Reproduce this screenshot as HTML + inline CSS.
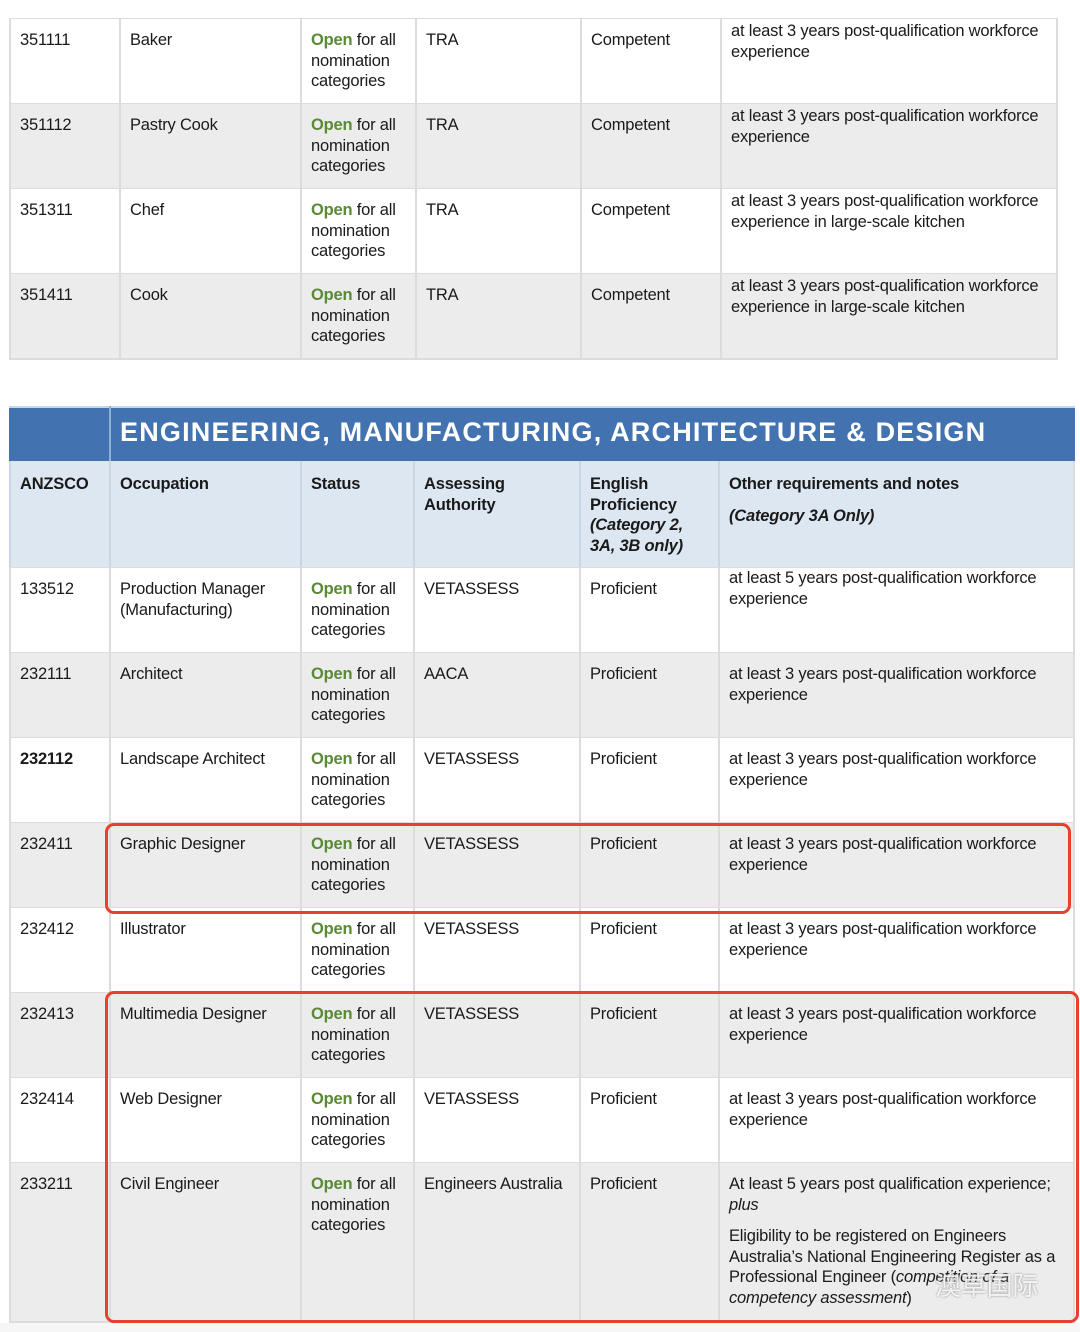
<!DOCTYPE html>
<html><head><meta charset="utf-8"><style>
*{margin:0;padding:0;box-sizing:border-box}
body{width:1080px;height:1332px;background:#fff;position:relative;overflow:hidden;font-family:"Liberation Sans",sans-serif;font-size:16.5px;color:#1a1a1a;letter-spacing:-0.2px}
.r{position:absolute;display:flex;border-bottom:2px solid #dcdcdc}
.r>div{border-left:2px solid #dcdcdc;padding:11px 9px 0 9px;line-height:20.5px;height:100%}
.r>div:last-child{border-right:2px solid #dcdcdc}
.g{background:#ececec}.w{background:#fff}
.o{color:#5a8a35;font-weight:bold}
.t .n{padding-top:2px}
.h{background:#dde7f2}
.h>div{font-weight:bold;border-left-color:#c9d6e6}
i{font-style:italic}
.box{position:absolute;border:3px solid #e8402c;border-radius:9px}
</style></head><body>
<div style="position:absolute;left:9px;top:18px;width:1049px;border-top:2px solid #dcdcdc"></div>
<div class="r w t" style="left:9px;top:19px;height:86px"><div style="width:110px">351111</div><div style="width:181px">Baker</div><div style="width:115px"><span class="o">Open</span> for all nomination categories</div><div style="width:165px">TRA</div><div style="width:140px">Competent</div><div class="n" style="width:338px">at least 3 years post-qualification workforce experience</div></div>
<div class="r g t" style="left:9px;top:104px;height:86px"><div style="width:110px">351112</div><div style="width:181px">Pastry Cook</div><div style="width:115px"><span class="o">Open</span> for all nomination categories</div><div style="width:165px">TRA</div><div style="width:140px">Competent</div><div class="n" style="width:338px">at least 3 years post-qualification workforce experience</div></div>
<div class="r w t" style="left:9px;top:189px;height:86px"><div style="width:110px">351311</div><div style="width:181px">Chef</div><div style="width:115px"><span class="o">Open</span> for all nomination categories</div><div style="width:165px">TRA</div><div style="width:140px">Competent</div><div class="n" style="width:338px">at least 3 years post-qualification workforce experience in large-scale kitchen</div></div>
<div class="r g t" style="left:9px;top:274px;height:86px"><div style="width:110px">351411</div><div style="width:181px">Cook</div><div style="width:115px"><span class="o">Open</span> for all nomination categories</div><div style="width:165px">TRA</div><div style="width:140px">Competent</div><div class="n" style="width:338px">at least 3 years post-qualification workforce experience in large-scale kitchen</div></div>

<div style="position:absolute;left:9px;top:406px;width:1066px;height:56px;background:#4272b0;border-top:2px solid #c9d6e6"></div>
<div style="position:absolute;left:109px;top:406px;width:2px;height:56px;background:#8fb0d6"></div>
<div style="position:absolute;left:120px;top:414px;color:#fff;font-weight:bold;font-size:27px;letter-spacing:1.2px;line-height:36px">ENGINEERING, MANUFACTURING, ARCHITECTURE &amp; DESIGN</div>
<div class="r h" style="left:9px;top:461px;height:108px;border-bottom-color:#dcdcdc"><div style="width:100px;padding-top:13px">ANZSCO</div><div style="width:191px;padding-top:13px">Occupation</div><div style="width:113px;padding-top:13px">Status</div><div style="width:166px;padding-top:13px">Assessing Authority</div><div style="width:139px;padding-top:13px">English Proficiency <i>(Category 2, 3A, 3B only)</i></div><div style="width:357px;padding-top:13px">Other requirements and notes<br><i style="display:block;margin-top:11px">(Category 3A Only)</i></div></div>
<div class="r w" style="left:9px;top:568px;height:86px"><div style="width:100px">133512</div><div style="width:191px">Production Manager (Manufacturing)</div><div style="width:113px"><span class="o">Open</span> for all nomination categories</div><div style="width:166px">VETASSESS</div><div style="width:139px">Proficient</div><div style="width:357px;padding-top:0px">at least 5 years post-qualification workforce experience</div></div>
<div class="r g" style="left:9px;top:653px;height:86px"><div style="width:100px">232111</div><div style="width:191px">Architect</div><div style="width:113px"><span class="o">Open</span> for all nomination categories</div><div style="width:166px">AACA</div><div style="width:139px">Proficient</div><div style="width:357px">at least 3 years post-qualification workforce experience</div></div>
<div class="r w" style="left:9px;top:738px;height:86px"><div style="width:100px;font-weight:bold">232112</div><div style="width:191px">Landscape Architect</div><div style="width:113px"><span class="o">Open</span> for all nomination categories</div><div style="width:166px">VETASSESS</div><div style="width:139px">Proficient</div><div style="width:357px">at least 3 years post-qualification workforce experience</div></div>
<div class="r g" style="left:9px;top:823px;height:86px"><div style="width:100px">232411</div><div style="width:191px">Graphic Designer</div><div style="width:113px"><span class="o">Open</span> for all nomination categories</div><div style="width:166px">VETASSESS</div><div style="width:139px">Proficient</div><div style="width:357px">at least 3 years post-qualification workforce experience</div></div>
<div class="r w" style="left:9px;top:908px;height:86px"><div style="width:100px">232412</div><div style="width:191px">Illustrator</div><div style="width:113px"><span class="o">Open</span> for all nomination categories</div><div style="width:166px">VETASSESS</div><div style="width:139px">Proficient</div><div style="width:357px">at least 3 years post-qualification workforce experience</div></div>
<div class="r g" style="left:9px;top:993px;height:86px"><div style="width:100px">232413</div><div style="width:191px">Multimedia Designer</div><div style="width:113px"><span class="o">Open</span> for all nomination categories</div><div style="width:166px">VETASSESS</div><div style="width:139px">Proficient</div><div style="width:357px">at least 3 years post-qualification workforce experience</div></div>
<div class="r w" style="left:9px;top:1078px;height:86px"><div style="width:100px">232414</div><div style="width:191px">Web Designer</div><div style="width:113px"><span class="o">Open</span> for all nomination categories</div><div style="width:166px">VETASSESS</div><div style="width:139px">Proficient</div><div style="width:357px">at least 3 years post-qualification workforce experience</div></div>
<div class="r g" style="left:9px;top:1163px;height:160px"><div style="width:100px">233211</div><div style="width:191px">Civil Engineer</div><div style="width:113px"><span class="o">Open</span> for all nomination categories</div><div style="width:166px">Engineers Australia</div><div style="width:139px">Proficient</div><div style="width:357px">At least 5 years post qualification experience;<br><i>plus</i><div style="margin-top:11px">Eligibility to be registered on Engineers Australia’s National Engineering Register as a Professional Engineer (<i>competition of a competency assessment</i>)</div></div></div>
<div style="position:absolute;left:0;top:1323px;width:1080px;height:9px;background:#f6f6f6"></div>
<div style="position:absolute;left:935px;top:1266px;color:rgba(255,255,255,0.85);font-family:'Noto Sans CJK SC',sans-serif;font-size:26px;text-shadow:0 0 2px #888">澳草国际</div>
<div class="box" style="left:105px;top:823px;width:966px;height:91px"></div>
<div class="box" style="left:105px;top:991px;width:974px;height:332px"></div>
</body></html>
